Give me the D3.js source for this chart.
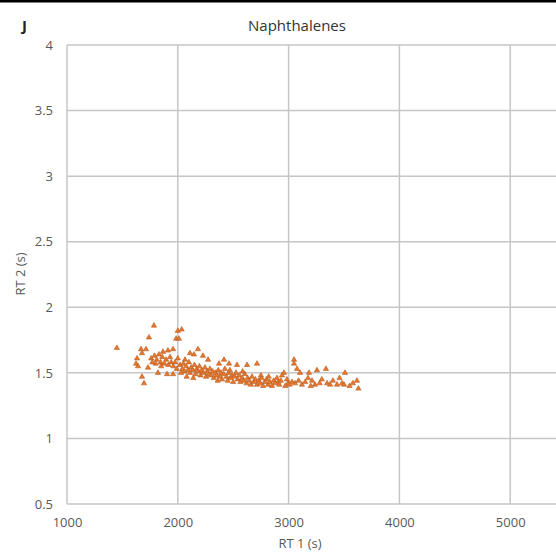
<!DOCTYPE html>
<html>
<head>
<meta charset="utf-8">
<script src="https://cdn.jsdelivr.net/npm/d3@7"></script>
<style>
  body { margin: 0; background: #fff; overflow: hidden; }
  svg { display: block; font-family: "Open Sans", "Liberation Sans", sans-serif; }
</style>
</head>
<body>
<div id="chart"></div>
<script>
// RT 1 (s) values
const rt1 = [
  1450, 1785, 1740, 2000, 2035, 1985, 2010, 1668, 1713, 1677, 1632, 1623, 1641, 1731, 1677, 1695,
  1821, 1903, 1957, 1911, 1957, 1866, 2000, 2065, 2110, 2182, 2146, 2227, 2273, 2417, 2372, 2534,
  2625, 2715, 2462, 3049, 3049, 3076, 3103, 3184, 3256, 3337, 3509, 3617, 3630, 3347, 3374, 3437,
  3482, 3500, 3175, 3211, 3238, 2958, 2940, 2904, 2995, 3031, 3058,
  1790, 1810, 1830, 1845, 1860, 1880, 1895, 1915, 1930, 1940, 1800, 1760, 1770, 1960, 1975, 1990, 1850,
  2020, 2040, 2050, 2060, 2075, 2090, 2100, 2110, 2120, 2135, 2150, 2160, 2170, 2185, 2195, 2205,
  2215, 2230, 2245, 2255, 2265, 2280, 2290, 2300, 2030, 2080, 2140,
  2315, 2325, 2340, 2350, 2365, 2380, 2390, 2400, 2415, 2425, 2440, 2450, 2460, 2475, 2490, 2500,
  2515, 2525, 2540, 2555, 2565, 2580, 2595, 2605, 2620, 2630, 2645, 2660, 2670, 2685, 2700, 2360,
  2470, 2585,
  2715, 2730, 2745, 2755, 2770, 2785, 2800, 2815, 2830, 2850, 2865, 2880, 2895, 2915, 2930, 2970,
  2985, 3010, 2750, 2820,
  3090, 3120, 3150, 3200, 3280, 3300, 3400, 3460, 3550, 3580
];
// RT 2 (s) values
const rt2 = [
  1.69, 1.86, 1.77, 1.82, 1.83, 1.76, 1.76, 1.68, 1.68, 1.65, 1.61, 1.57, 1.55, 1.54, 1.47, 1.42,
  1.50, 1.49, 1.49, 1.67, 1.68, 1.66, 1.61, 1.60, 1.65, 1.68, 1.64, 1.63, 1.60, 1.60, 1.57, 1.56,
  1.56, 1.57, 1.57, 1.60, 1.57, 1.53, 1.50, 1.50, 1.52, 1.53, 1.50, 1.44, 1.38, 1.42, 1.41, 1.41,
  1.42, 1.41, 1.46, 1.44, 1.41, 1.50, 1.48, 1.43, 1.42, 1.43, 1.42,
  1.63, 1.60, 1.64, 1.58, 1.62, 1.57, 1.60, 1.56, 1.62, 1.58, 1.57, 1.61, 1.58, 1.55, 1.58, 1.53, 1.55,
  1.56, 1.53, 1.57, 1.51, 1.55, 1.52, 1.58, 1.50, 1.54, 1.52, 1.56, 1.49, 1.53, 1.51, 1.55, 1.48,
  1.52, 1.50, 1.54, 1.47, 1.51, 1.49, 1.53, 1.48, 1.50, 1.47, 1.46,
  1.51, 1.46, 1.50, 1.48, 1.52, 1.47, 1.50, 1.45, 1.49, 1.53, 1.47, 1.44, 1.50, 1.46, 1.48, 1.43,
  1.47, 1.50, 1.45, 1.48, 1.43, 1.46, 1.44, 1.49, 1.42, 1.46, 1.44, 1.41, 1.47, 1.43, 1.45, 1.44,
  1.52, 1.51,
  1.41, 1.44, 1.42, 1.46, 1.40, 1.43, 1.45, 1.41, 1.43, 1.40, 1.44, 1.42, 1.46, 1.41, 1.44, 1.40,
  1.45, 1.41, 1.48, 1.47,
  1.44, 1.41, 1.43, 1.40, 1.42, 1.45, 1.44, 1.46, 1.40, 1.42
];

const xGrid = [1000, 2000, 3000, 4000, 5000, 6000];
const xTickLabels = [1000, 2000, 3000, 4000, 5000];
const yTicks = [0.5, 1, 1.5, 2, 2.5, 3, 3.5, 4];
const title = "Naphthalenes";
const panelLabel = "J";
const xLabel = "RT 1 (s)";
const yLabel = "RT 2 (s)";

const width = 556, height = 555;
const margin = { top: 45, left: 67, bottom: 51 };
const plotBottom = height - margin.bottom;

const svg = d3.select("#chart")
  .append("svg")
  .attr("width", width)
  .attr("height", height);

// top border line
svg.append("rect")
  .attr("x", 0).attr("y", 0)
  .attr("width", width).attr("height", 2.5)
  .attr("fill", "#000");

// 1000 units ~ 110.8px, plot runs past the right edge
const x = d3.scaleLinear().domain([1000, 6000]).range([margin.left, margin.left + 5 * 110.8]);
const y = d3.scaleLinear().domain([0.5, 4]).range([plotBottom, margin.top]);

// gridlines
svg.append("g")
  .selectAll("line")
  .data(xGrid)
  .join("line")
  .attr("x1", (d) => x(d)).attr("x2", (d) => x(d))
  .attr("y1", y(4)).attr("y2", y(0.5))
  .attr("stroke", "#c6c6c6")
  .attr("stroke-width", 1.5);

svg.append("g")
  .selectAll("line")
  .data(yTicks)
  .join("line")
  .attr("x1", x(1000)).attr("x2", x(6000))
  .attr("y1", (d) => y(d)).attr("y2", (d) => y(d))
  .attr("stroke", "#c6c6c6")
  .attr("stroke-width", 1.5);

// axes (labels only, lines come from grid)
const xAxis = svg.append("g")
  .attr("transform", `translate(0,${plotBottom})`)
  .call(d3.axisBottom(x).tickValues(xTickLabels).tickSize(0).tickPadding(14).tickFormat(d3.format("d")));
xAxis.select(".domain").remove();
xAxis.selectAll("text").attr("font-size", 13).attr("fill", "#595959")
  .attr("font-family", "'Open Sans', sans-serif");

const yAxis = svg.append("g")
  .attr("transform", `translate(${margin.left},0)`)
  .call(d3.axisLeft(y).tickValues(yTicks).tickSize(0).tickPadding(14).tickFormat((d) => String(d)));
yAxis.select(".domain").remove();
yAxis.selectAll("text").attr("font-size", 13).attr("fill", "#595959")
  .attr("font-family", "'Open Sans', sans-serif");

// points
const points = rt1.map((v, i) => ({ rt1: v, rt2: rt2[i] }));
const tri = d3.symbol().type(d3.symbolTriangle).size(12);

svg.append("g")
  .selectAll("path")
  .data(points)
  .join("path")
  .attr("d", tri)
  .attr("transform", (d) => `translate(${x(d.rt1)},${y(d.rt2)})`)
  .attr("fill", "#e6772e")
  .attr("stroke", "#b85a1c")
  .attr("stroke-width", 0.6);

// titles
svg.append("text")
  .attr("x", 297).attr("y", 31)
  .attr("text-anchor", "middle")
  .attr("font-size", 15)
  .attr("fill", "#333")
  .text(title);

svg.append("text")
  .attr("x", 22).attr("y", 31)
  .attr("font-size", 15)
  .attr("font-weight", "bold")
  .attr("fill", "#222")
  .text(panelLabel);

svg.append("text")
  .attr("x", 300).attr("y", 548)
  .attr("text-anchor", "middle")
  .attr("font-size", 13)
  .attr("fill", "#595959")
  .text(xLabel);

svg.append("text")
  .attr("transform", "translate(25,274) rotate(-90)")
  .attr("text-anchor", "middle")
  .attr("font-size", 13)
  .attr("fill", "#595959")
  .text(yLabel);
</script>
</body>
</html>
